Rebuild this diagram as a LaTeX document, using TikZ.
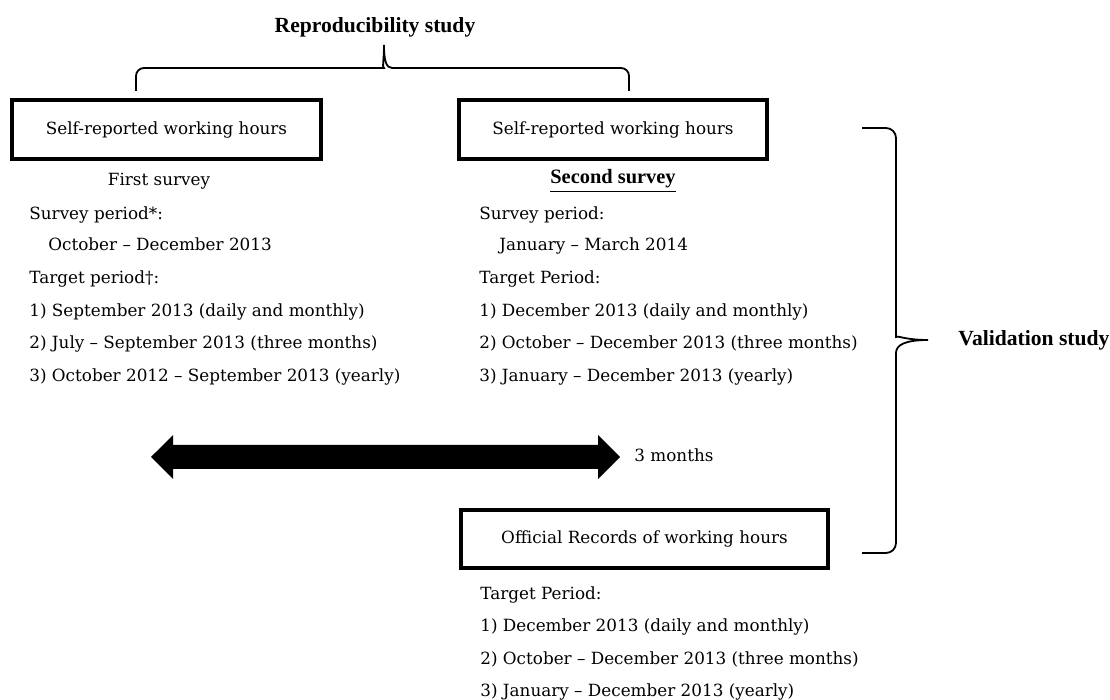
\documentclass[tikz,border=0pt]{standalone}
\usepackage{fontspec}
\setmainfont{DejaVu Serif}
\newfontfamily\titlefont{Liberation Serif}
\usetikzlibrary{positioning}

\tikzset{
  hoursbox/.style={draw, line width=1.6pt, inner sep=0pt, minimum height=29.5pt,
    font=\fontsize{8.4}{10}\selectfont},
  txt/.style={anchor=west, inner sep=0pt, font=\fontsize{8.4}{10}\selectfont,
    text height=6.2pt, text depth=1.8pt},
  head/.style={inner sep=0pt, font=\titlefont\bfseries\fontsize{10.8}{12}\selectfont},
  bracket/.style={line width=0.9pt},
}

\begin{document}
\begin{tikzpicture}[x=0.5pt, y=-0.5pt]
\useasboundingbox (0,0) rectangle (1110,700);

% Reproducibility study
\node[head] (repro) at (375,27) {Reproducibility study};
\coordinate (rl) at (136,91);
\coordinate (rr) at (629,91);
\coordinate (rtip) at (384,45);
\draw[bracket] (rl) [rounded corners=4pt] |- (376,68) [sharp corners]
  .. controls (382,68) and (384,60) .. (rtip)
  .. controls (384,60) and (386,68) .. (392,68) [rounded corners=4pt] -| (rr);

% Self-reported boxes
\node[hoursbox, minimum width=154.5pt] (self1) at (166.5,129.5) {Self-reported working hours};
\node[hoursbox, minimum width=154pt] (self2) at (613,129.5) {Self-reported working hours};

% First survey
\node[txt, anchor=center] (first) at (159,181) {First survey};
\node[txt] (sp1) at (29,215) {Survey period*:};
\node[txt] (sd1) at (48,246) {October -- December 2013};
\node[txt] (tp1) at (29,279) {Target period†:};
\node[txt] (ta1) at (29,312) {1) September 2013 (daily and monthly)};
\node[txt] (tb1) at (29,344) {2) July -- September 2013 (three months)};
\node[txt] (tc1) at (29,377) {3) October 2012 -- September 2013 (yearly)};

% Second survey
\node[head, font=\titlefont\bfseries\fontsize{10.2}{12}\selectfont] (second) at (613,181) {\underline{Second survey}};
\node[txt] (sp2) at (479,215) {Survey period:};
\node[txt] (sd2) at (499,246) {January -- March 2014};
\node[txt] (tp2) at (479,279) {Target Period:};
\node[txt] (ta2) at (479,312) {1) December 2013 (daily and monthly)};
\node[txt] (tb2) at (479,344) {2) October -- December 2013 (three months)};
\node[txt] (tc2) at (479,377) {3) January -- December 2013 (yearly)};

% 3 months span
\coordinate (al) at (151,457);
\coordinate (ar) at (620,457);
\fill (al) -- ++(22,-22) -- ++(0,10) -- ++(425,0) -- ++(0,-10) -- (ar)
  -- ++(-22,22) -- ++(0,-10) -- ++(-425,0) -- ++(0,10) -- cycle;
\node[txt, right=7pt of ar] (span) {3 months};

% Official records
\node[hoursbox, minimum width=183.5pt, minimum height=29pt] (official) at (644.5,539) {Official Records of working hours};
\node[txt] (tp3) at (480,595) {Target Period:};
\node[txt] (ta3) at (480,627) {1) December 2013 (daily and monthly)};
\node[txt] (tb3) at (480,660) {2) October -- December 2013 (three months)};
\node[txt] (tc3) at (480,692) {3) January -- December 2013 (yearly)};

% Validation study
\coordinate (vt) at (862,128);
\coordinate (vb) at (862,553);
\coordinate (vtip) at (928,340);
\draw[bracket] (vt) [rounded corners=5pt] -| (896,327) [sharp corners]
  .. controls (896,335) and (905,340) .. (vtip)
  .. controls (905,340) and (896,345) .. (896,353) [rounded corners=5pt] |- (vb);
\node[head, anchor=west] (valid) at (958,340) {Validation study};
\end{tikzpicture}
\end{document}
